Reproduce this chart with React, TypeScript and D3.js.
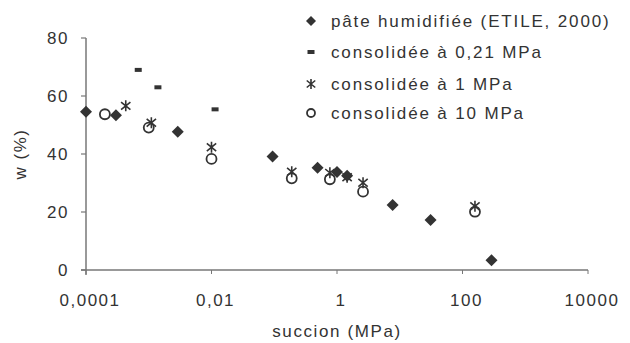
import { useEffect, useRef } from 'react';
import * as d3 from 'd3';

// succion (MPa) / teneur en eau w (%)
const pateSuccion = [0.0001, 0.0003, 0.0029, 0.094, 0.49, 1.0, 1.45, 7.7, 31, 290];
const pateW = [54.6, 53.4, 47.7, 39.1, 35.3, 33.8, 32.5, 22.4, 17.2, 3.4];

const c021Succion = [0.00068, 0.0014, 0.0114];
const c021W = [69, 63, 55.4];

const c1Succion = [0.00043, 0.0011, 0.01, 0.19, 0.77, 1.45, 2.6, 158];
const c1W = [56.6, 50.8, 42.3, 33.9, 33.5, 32.0, 30.1, 22];

const c10Succion = [0.0002, 0.001, 0.01, 0.19, 0.77, 2.6, 158];
const c10W = [53.7, 49.1, 38.3, 31.6, 31.3, 27, 20.1];

const xTicks = [0.0001, 0.01, 1, 100, 10000];
const xTickLabels = ['0,0001', '0,01', '1', '100', '10000'];
const yTicks = [0, 20, 40, 60, 80];

const legendLabels = [
  'pâte humidifiée (ETILE, 2000)',
  'consolidée à 0,21 MPa',
  'consolidée à 1 MPa',
  'consolidée à 10 MPa',
];

const FONT = '"Liberation Sans", Arial, sans-serif';
const INK = '#333';

function App() {
  const svgRef = useRef<SVGSVGElement>(null);

  useEffect(() => {
    const svg = d3.select(svgRef.current);
    svg.selectAll('*').remove();

    const x = d3.scaleLog().domain([0.0001, 10000]).range([86, 588]);
    const y = d3.scaleLinear().domain([0, 80]).range([270, 38]);

    const g = svg.append('g');

    // axes
    g.append('line')
      .attr('x1', x(0.0001)).attr('x2', x(0.0001))
      .attr('y1', y(80)).attr('y2', y(0) + 5)
      .attr('stroke', '#777').attr('stroke-width', 1.5);
    g.append('line')
      .attr('x1', x(0.0001) - 5).attr('x2', x(10000))
      .attr('y1', y(0)).attr('y2', y(0))
      .attr('stroke', '#777').attr('stroke-width', 1.5);

    yTicks.forEach(t => {
      g.append('line')
        .attr('x1', x(0.0001) - 5).attr('x2', x(0.0001))
        .attr('y1', y(t)).attr('y2', y(t))
        .attr('stroke', '#777').attr('stroke-width', 1.2);
      g.append('text')
        .attr('x', 69).attr('y', y(t))
        .attr('dy', '0.35em')
        .attr('text-anchor', 'end')
        .style('font-family', FONT).style('font-size', '17px')
        .style('letter-spacing', '1.5px')
        .attr('fill', INK)
        .text(t);
    });

    xTicks.forEach((t, i) => {
      g.append('line')
        .attr('x1', x(t)).attr('x2', x(t))
        .attr('y1', y(0)).attr('y2', y(0) + 4)
        .attr('stroke', '#777').attr('stroke-width', 1);
      g.append('text')
        .attr('x', x(t) + 4).attr('y', 306)
        .attr('text-anchor', 'middle')
        .style('font-family', FONT).style('font-size', '17px')
        .style('letter-spacing', '1.5px')
        .attr('fill', INK)
        .text(xTickLabels[i]);
    });

    g.append('text')
      .attr('x', 337).attr('y', 337)
      .attr('text-anchor', 'middle')
      .style('font-family', FONT).style('font-size', '17px')
      .style('letter-spacing', '1.6px')
      .attr('fill', INK)
      .text('succion (MPa)');

    g.append('text')
      .attr('transform', 'translate(26,154) rotate(-90)')
      .attr('text-anchor', 'middle')
      .style('font-family', FONT).style('font-size', '17px')
      .style('letter-spacing', '1.5px')
      .attr('fill', INK)
      .text('w (%)');

    // marker painters
    const diamond = (sel, cx, cy, r) => sel.append('path')
      .attr('d', `M${cx},${cy - r}L${cx + r},${cy}L${cx},${cy + r}L${cx - r},${cy}Z`)
      .attr('fill', INK);
    const dash = (sel, cx, cy) => sel.append('rect')
      .attr('x', cx - 3.5).attr('y', cy - 2).attr('width', 7).attr('height', 4)
      .attr('fill', INK);
    // Excel-like star: an X with a vertical stroke
    const star = (sel, cx, cy, r) => {
      const dx = r * 0.85;
      const dy = r * 0.7;
      sel.append('path')
        .attr('d', `M${cx},${cy - r}L${cx},${cy + r}M${cx - dx},${cy - dy}L${cx + dx},${cy + dy}M${cx - dx},${cy + dy}L${cx + dx},${cy - dy}`)
        .attr('stroke', INK).attr('stroke-width', 1.6).attr('fill', 'none');
    };
    const circle = (sel, cx, cy, r) => sel.append('circle')
      .attr('cx', cx).attr('cy', cy).attr('r', r)
      .attr('fill', 'none').attr('stroke', INK).attr('stroke-width', 1.8);

    const pts = g.append('g');
    c10Succion.forEach((s, i) => circle(pts, x(s), y(c10W[i]), 5));
    c1Succion.forEach((s, i) => star(pts, x(s), y(c1W[i]), 5.5));
    c021Succion.forEach((s, i) => dash(pts, x(s), y(c021W[i])));
    pateSuccion.forEach((s, i) => diamond(pts, x(s), y(pateW[i]), 6));

    // legend
    const leg = svg.append('g');
    const rowY = [21, 52, 84, 113];
    legendLabels.forEach((label, i) => {
      const cy = rowY[i];
      if (i === 0) diamond(leg, 311, cy, 5);
      if (i === 1) dash(leg, 311, cy);
      if (i === 2) star(leg, 311, cy, 5);
      if (i === 3) circle(leg, 311, cy, 4);
      leg.append('text')
        .attr('x', 331).attr('y', cy)
        .attr('dy', '0.35em')
        .style('font-family', FONT).style('font-size', '17px')
        .style('letter-spacing', '1.85px')
        .attr('fill', INK)
        .text(label);
    });
  }, []);

  return (
    <svg
      ref={svgRef}
      width={630}
      height={343}
      style={{ position: 'absolute', left: 0, top: 0, background: '#fff' }}
    ></svg>
  );
}

export default App;
